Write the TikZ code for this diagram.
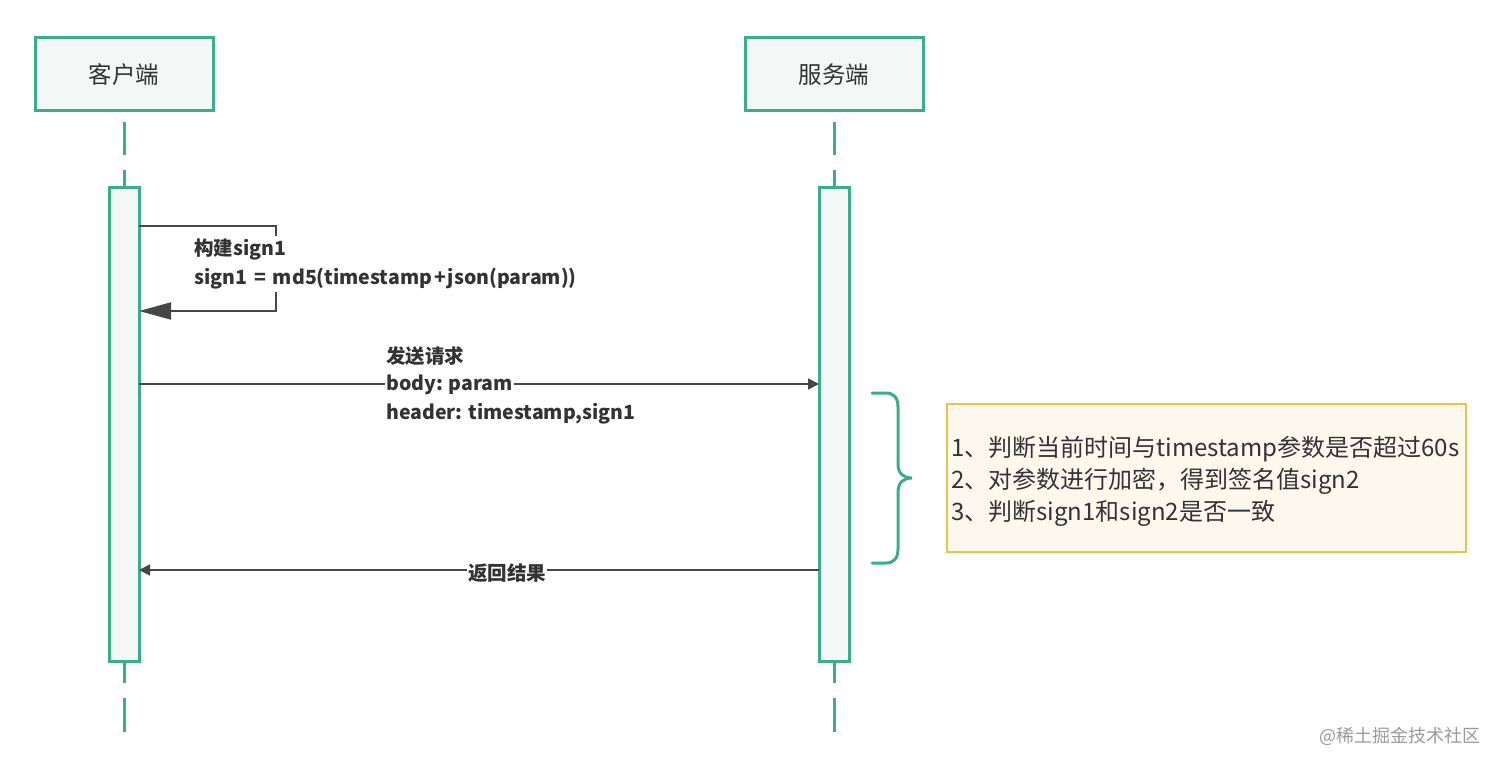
\documentclass[tikz,border=0pt]{standalone}
\usepackage{fontspec}
\setmainfont{Noto Sans CJK SC}
\usetikzlibrary{arrows.meta}
\definecolor{lgreen}{HTML}{3AAE8A}
\definecolor{lfill}{HTML}{F3F7F5}
\definecolor{msg}{HTML}{474747}
\definecolor{txt}{HTML}{333333}
\definecolor{notefill}{HTML}{FDF8EE}
\definecolor{noteborder}{HTML}{E9C44C}
\definecolor{wm}{HTML}{9A9A9A}
\begin{document}
\begin{tikzpicture}[x=1pt,y=-1pt,
  actor/.style={draw=lgreen,line width=3pt,fill=lfill,minimum width=178pt,minimum height=73pt,inner sep=0pt,font=\fontsize{23.5}{26}\selectfont,text=txt},
  actbar/.style={draw=lgreen,line width=3pt,fill=lfill},
  life/.style={draw=lgreen,line width=3pt},
  msgline/.style={draw=msg,line width=1.8pt},
  lbl/.style={font=\fontsize{19.5}{28.5}\selectfont\bfseries,text=txt,align=left,inner sep=1pt},
  note/.style={draw=noteborder,line width=2.5pt,fill=notefill,minimum width=519pt,minimum height=148pt,inner sep=0pt},
  notetext/.style={font=\fontsize{24}{32}\selectfont,text=txt,align=left,inner sep=0pt},
  bracestyle/.style={draw=lgreen,line width=3pt,line cap=round}
]
\useasboundingbox (0,0) rectangle (1502,767);
% actors
\node[actor] (client) at (124,74.5) {客户端};
\node[actor] (server) at (834,74.5) {服务端};
% lifeline dashes
\coordinate (c1a) at (124,122); \coordinate (c1b) at (124,155);
\coordinate (c2a) at (124,170); \coordinate (c2b) at (124,188);
\coordinate (c3a) at (124,661); \coordinate (c3b) at (124,683);
\coordinate (c4a) at (124,698); \coordinate (c4b) at (124,732);
\coordinate (s1a) at (834,122); \coordinate (s1b) at (834,155);
\coordinate (s2a) at (834,170); \coordinate (s2b) at (834,188);
\coordinate (s3a) at (834,661); \coordinate (s3b) at (834,683);
\coordinate (s4a) at (834,698); \coordinate (s4b) at (834,732);
\draw[life] (c1a) -- (c1b) (c2a) -- (c2b) (c3a) -- (c3b) (c4a) -- (c4b);
\draw[life] (s1a) -- (s1b) (s2a) -- (s2b) (s3a) -- (s3b) (s4a) -- (s4b);
% activation bars
\draw[actbar] (109,188) rectangle (139,661);
\draw[actbar] (819,188) rectangle (849,661);
% self message
\coordinate (selfA) at (139,226);
\coordinate (selfB) at (276,226);
\coordinate (selfC) at (276,311);
\coordinate (selfD) at (139,311);
\draw[msgline,-{Triangle[length=32pt,width=17pt]}] (selfA) -- (selfB) -- (selfC) -- (selfD);
\node[lbl,anchor=north west,fill=white,inner xsep=0pt,inner ysep=3pt] (selflbl) at (194,236) {构建sign1\\sign1\hspace{7pt}=\hspace{7pt}md5(timestamp\hspace{2pt}+\hspace{2pt}json(param))};
% send request
\coordinate (sendA) at (139,384);
\coordinate (sendB) at (819,384);
\draw[msgline,-{Triangle[length=11pt,width=11pt]}] (sendA) -- (sendB);
\node[lbl,anchor=west,fill=white,inner ysep=0pt] (sendmid) at (385,385) {body: param};
\node[lbl,anchor=west] (sendtop) at (385,356.5) {发送请求};
\node[lbl,anchor=west] (sendbot) at (385,413.5) {header: timestamp,sign1};
% return
\coordinate (retA) at (819,570);
\coordinate (retB) at (139,570);
\draw[msgline,-{Triangle[length=11pt,width=11pt]}] (retA) -- (retB);
\node[lbl,fill=white,inner xsep=1pt,inner ysep=0pt] (retlbl) at (507,573) {返回结果};
% brace
\coordinate (brT) at (872,393);
\coordinate (brM) at (912,478);
\coordinate (brB) at (872,563);
\draw[bracestyle] (brT) -- (886,393) .. controls (894,393) and (898,398) .. (898,407) -- (898,464)
  .. controls (898,474) and (904,478) .. (brM)
  .. controls (904,478) and (898,482) .. (898,492) -- (898,549)
  .. controls (898,558) and (894,563) .. (886,563) -- (brB);
% note
\node[note] (notebox) at (1206.5,478) {};
\node[notetext,anchor=west] (notetxt) at (951,481) {1、判断当前时间与timestamp参数是否超过60s\\2、对参数进行加密，得到签名值sign2\\3、判断sign1和sign2是否一致};
% watermark
\node[font=\fontsize{18}{20}\selectfont,text=wm,anchor=east,inner sep=0pt] (wmark) at (1481,736) {@稀土掘金技术社区};
\end{tikzpicture}
\end{document}
